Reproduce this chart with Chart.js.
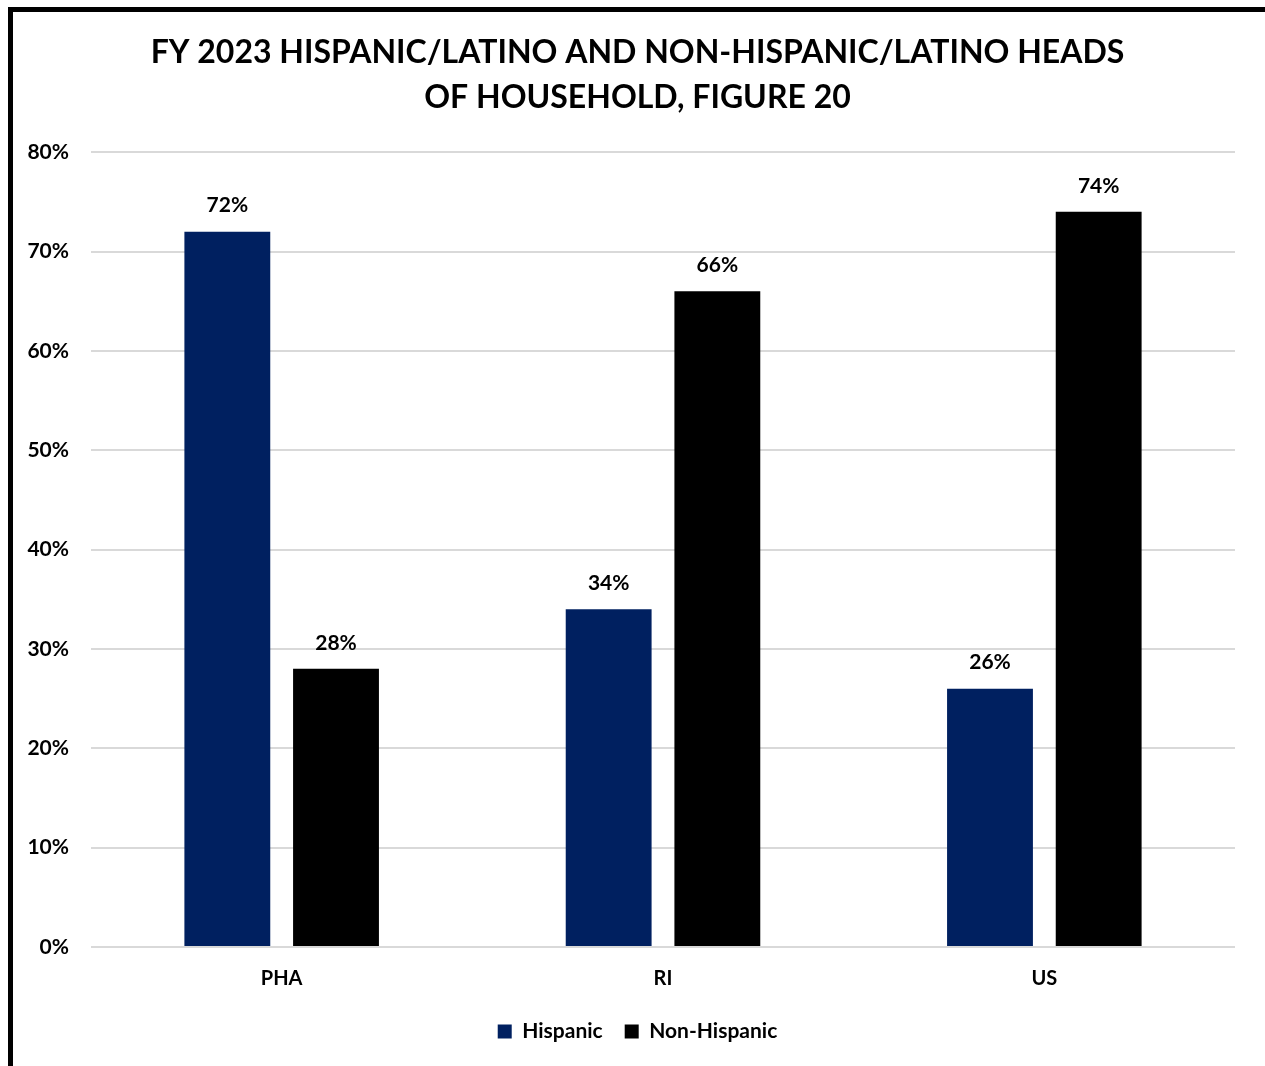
<!DOCTYPE html>
<html>
<head>
<meta charset="utf-8">
<script src="https://cdn.jsdelivr.net/npm/chart.js"></script>
<style>
  html, body { margin: 0; padding: 0; background: #fff; overflow: hidden; }
  #chart { position: absolute; left: 0; top: 0; }
  /* black frame round the chart, open at the bottom */
  #frame {
    position: absolute; left: 8px; top: 7px; width: 1252px; height: 1100px;
    border: 5px solid #000; pointer-events: none;
  }
</style>
</head>
<body>
<canvas id="chart" width="1265" height="1066"></canvas>
<div id="frame"></div>
<script>
// heads of household by ethnicity, in percent
const groups = ["PHA", "RI", "US"];
const hispanic = [72, 34, 26];
const nonHispanic = [28, 66, 74];
const seriesNames = ["Hispanic", "Non-Hispanic"];
const seriesColors = ["#002060", "#000000"];
const titleLines = [
  "FY 2023 HISPANIC/LATINO AND NON-HISPANIC/LATINO HEADS",
  "OF HOUSEHOLD, FIGURE 20"
];
const yMax = 80;
const yStep = 10;

const FONT = "Lato, 'Open Sans', sans-serif";
const tickFont = { family: FONT, size: 21, weight: "bold" };

// widest y tick label, so the mirrored labels can be right-aligned
// in the left margin without being clipped by the axis box
const measure = document.createElement("canvas").getContext("2d");
measure.font = "bold 21px " + FONT;
let widestTick = 0;
for (let v = 0; v <= yMax; v += yStep) {
  widestTick = Math.max(widestTick, measure.measureText(v + "%").width);
}

// write each bar's value just above it
const valueLabels = {
  id: "valueLabels",
  afterDatasetsDraw(chart) {
    const ctx = chart.ctx;
    ctx.save();
    ctx.font = "bold 21px " + FONT;
    ctx.fillStyle = "#000";
    ctx.textAlign = "center";
    ctx.textBaseline = "middle";
    chart.data.datasets.forEach((ds, i) => {
      chart.getDatasetMeta(i).data.forEach((bar, j) => {
        ctx.fillText(ds.data[j] + "%", bar.x, bar.y - 26);
      });
    });
    ctx.restore();
  }
};

new Chart(document.getElementById("chart"), {
  type: "bar",
  data: {
    labels: groups,
    datasets: [
      { label: seriesNames[0], data: hispanic, backgroundColor: seriesColors[0] },
      { label: seriesNames[1], data: nonHispanic, backgroundColor: seriesColors[1] }
    ]
  },
  options: {
    responsive: false,
    animation: false,
    categoryPercentage: 0.57,
    barPercentage: 0.79,
    layout: { padding: { left: 40, right: 30, top: 0, bottom: 14 } },
    plugins: {
      title: {
        display: true,
        text: titleLines,
        color: "#000",
        font: { family: FONT, size: 32, weight: "bold", lineHeight: 1.41 },
        padding: { top: 30, bottom: 32 }
      },
      legend: {
        position: "bottom",
        labels: {
          color: "#000",
          font: tickFont,
          boxWidth: 14,
          boxHeight: 14,
          padding: 22
        }
      },
      tooltip: { enabled: false }
    },
    scales: {
      x: {
        afterFit(scale) { scale.height = 52; },
        grid: { display: false, drawTicks: false },
        border: { display: false },
        ticks: {
          color: "#000",
          font: { family: FONT, size: 20, weight: "bold" },
          padding: 20
        }
      },
      y: {
        min: 0,
        max: yMax,
        afterFit(scale) { scale.width = 51; },
        grid: { color: "#d9d9d9", lineWidth: 2, drawTicks: false },
        border: { display: false },
        ticks: {
          stepSize: yStep,
          color: "#000",
          font: tickFont,
          mirror: true,
          crossAlign: "far",
          padding: -22 - widestTick,
          callback: v => v + "%"
        }
      }
    }
  },
  plugins: [valueLabels]
});
</script>
</body>
</html>
